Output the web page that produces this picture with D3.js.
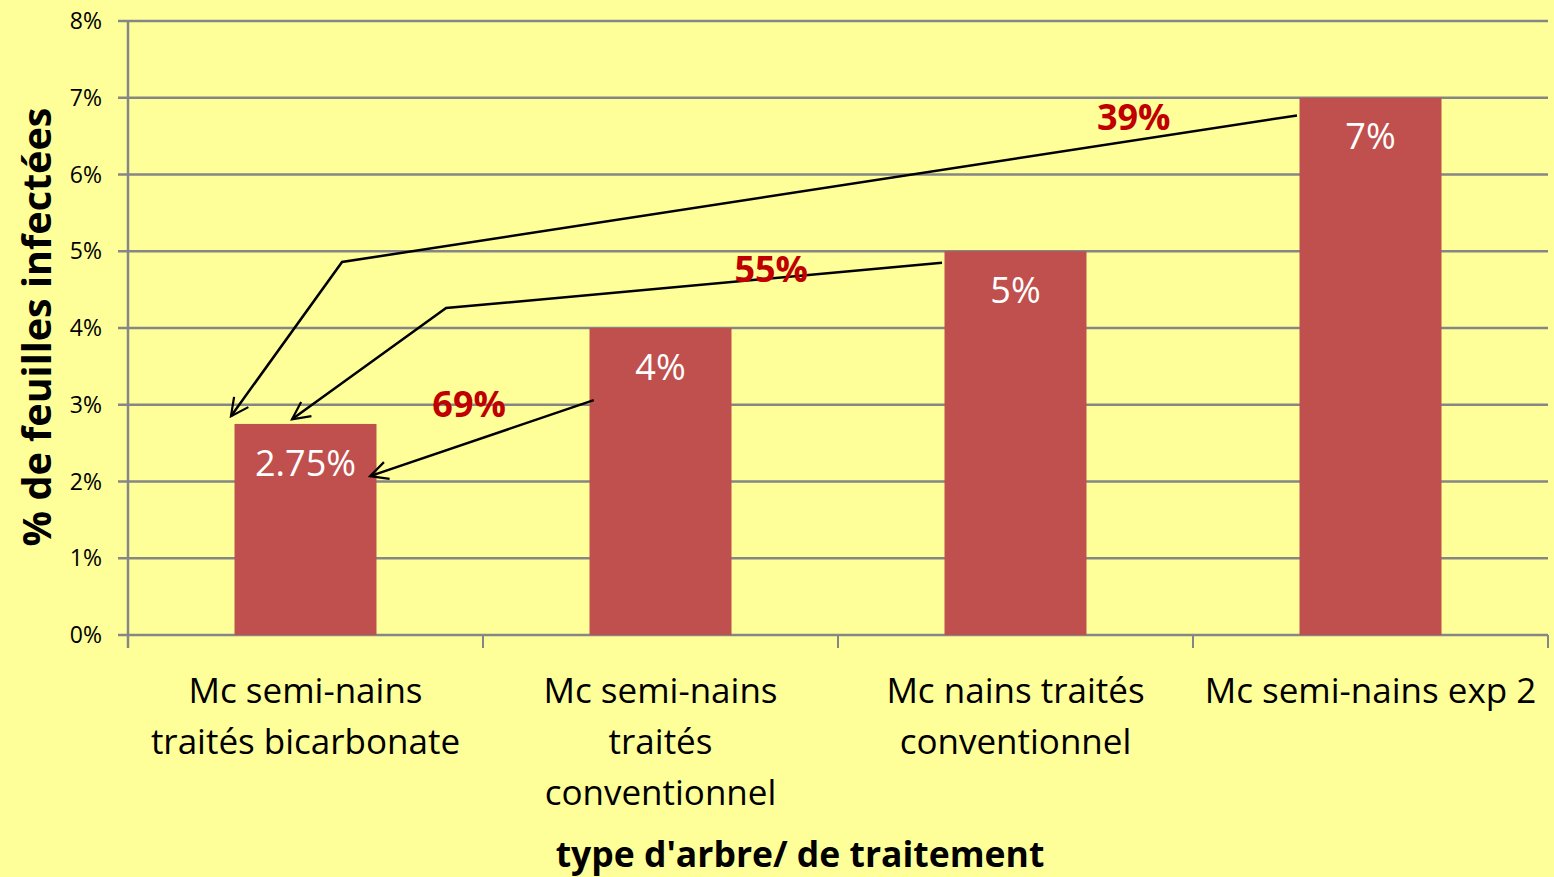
<!DOCTYPE html>
<html>
<head>
<meta charset="utf-8">
<script src="https://cdn.jsdelivr.net/npm/d3@7"></script>
<style>
  body { margin: 0; background: #ffff99; }
  svg { display: block; font-family: "Open Sans", sans-serif; }
</style>
</head>
<body>
<script>
const w = 1554;
const h = 877;

// data
const categories = [
  ['Mc semi-nains', 'traités bicarbonate'],
  ['Mc semi-nains', 'traités', 'conventionnel'],
  ['Mc nains traités', 'conventionnel'],
  ['Mc semi-nains exp 2']
];
const values = [2.75, 4, 5, 7];
const valueLabels = ['2.75%', '4%', '5%', '7%'];
const yTicks = [0, 1, 2, 3, 4, 5, 6, 7, 8];

// arrows: [category index, offset inside band (in band steps), value]
const arrows = [
  [[3, -0.207, 6.77], [0, 0.103, 4.86], [0, -0.21, 2.85]],
  [[2, -0.207, 4.85], [0, 0.396, 4.26], [0, -0.038, 2.81]],
  [[1, -0.188, 3.06], [0, 0.182, 2.07]]
];
const arrowLabels = [
  {text: '39%', cat: 3, off: -0.667, v: 6.75},
  {text: '55%', cat: 1, off: 0.312, v: 4.77},
  {text: '69%', cat: 0, off: 0.461, v: 3.0}
];

const mLeft = 128, mRight = 1548, mTop = 21, mBottom = 635;

const svg = d3.select('body').append('svg').attr('width', w).attr('height', h);

svg.append('rect').attr('width', w).attr('height', h).attr('fill', '#ffff99');

const x = d3.scaleBand().domain(d3.range(categories.length)).range([mLeft, mRight]).paddingInner(0.6).paddingOuter(0.3);
const y = d3.scaleLinear().domain([0, 8]).range([mBottom, mTop]);
const step = x.step();
const cx = (c, off) => x(c) + x.bandwidth() / 2 + off * step;

// gridlines + y tick labels
svg.append('g').selectAll('line').data(yTicks).enter().append('line')
  .attr('x1', mLeft - 10).attr('x2', mRight)
  .attr('y1', d => y(d)).attr('y2', d => y(d))
  .attr('stroke', '#868686').attr('stroke-width', 2.5);

svg.append('g').selectAll('text').data(yTicks).enter().append('text')
  .attr('x', mLeft - 26).attr('y', d => y(d)).attr('dy', '0.35em')
  .attr('text-anchor', 'end').attr('font-size', 23).attr('fill', '#000')
  .text(d => d + '%');

// y axis line
svg.append('line').attr('x1', mLeft).attr('x2', mLeft).attr('y1', mTop).attr('y2', mBottom + 13)
  .attr('stroke', '#868686').attr('stroke-width', 2.5);

// category ticks
const bounds = d3.range(categories.length + 1).map(i => mLeft + i * step);
svg.append('g').selectAll('line').data(bounds).enter().append('line')
  .attr('x1', d => d).attr('x2', d => d).attr('y1', mBottom).attr('y2', mBottom + 13)
  .attr('stroke', '#868686').attr('stroke-width', 2);

// bars
svg.append('g').selectAll('rect').data(values).enter().append('rect')
  .attr('x', (d, i) => x(i)).attr('width', x.bandwidth())
  .attr('y', d => y(d)).attr('height', d => mBottom - y(d))
  .attr('fill', '#c0504d');

svg.append('g').selectAll('text').data(values).enter().append('text')
  .attr('x', (d, i) => x(i) + x.bandwidth() / 2).attr('y', d => y(d) + 39)
  .attr('dy', '0.35em').attr('text-anchor', 'middle')
  .attr('font-size', 36).attr('fill', '#fff')
  .text((d, i) => valueLabels[i]);

// category labels
categories.forEach((lines, i) => {
  const t = svg.append('text').attr('text-anchor', 'middle').attr('font-size', 35).attr('fill', '#000');
  lines.forEach((l, j) => {
    t.append('tspan').attr('x', x(i) + x.bandwidth() / 2).attr('y', 703 + j * 51).text(l);
  });
});

// axis titles
svg.append('text').attr('x', 800).attr('y', 867).attr('text-anchor', 'middle')
  .attr('font-size', 35.5).attr('font-weight', 'bold').text("type d'arbre/ de traitement");

svg.append('text').attr('transform', 'translate(51,' + 327 + ') rotate(-90)')
  .attr('text-anchor', 'middle').attr('font-size', 39.5).attr('font-weight', 'bold')
  .text('% de feuilles infectées');

// arrows
svg.append('defs').append('marker').attr('id', 'arr')
  .attr('viewBox', '0 0 20 20').attr('refX', 18).attr('refY', 10)
  .attr('markerWidth', 22).attr('markerHeight', 22).attr('markerUnits', 'userSpaceOnUse')
  .attr('orient', 'auto')
  .append('path').attr('d', 'M2,2 L18,10 L2,18').attr('fill', 'none')
  .attr('stroke', '#000').attr('stroke-width', 2);

const line = d3.line().x(d => cx(d[0], d[1])).y(d => y(d[2]));
svg.append('g').selectAll('path').data(arrows).enter().append('path')
  .attr('d', line).attr('fill', 'none').attr('stroke', '#000').attr('stroke-width', 2.5)
  .attr('marker-end', 'url(#arr)');

svg.append('g').selectAll('text').data(arrowLabels).enter().append('text')
  .attr('x', d => cx(d.cat, d.off)).attr('y', d => y(d.v)).attr('dy', '0.35em')
  .attr('text-anchor', 'middle').attr('font-size', 36).attr('font-weight', 'bold')
  .attr('fill', '#c00000').text(d => d.text);
</script>
</body>
</html>
